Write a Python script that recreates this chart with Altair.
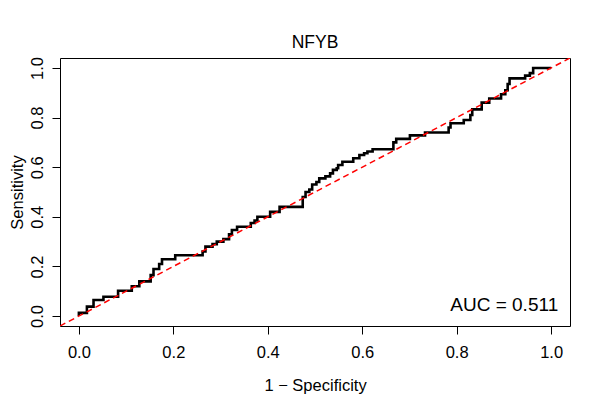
import altair as alt
import pandas as pd

# ROC curve vertices (1 - specificity, sensitivity)
fpr = [0, 0, 0.017, 0.017, 0.031, 0.031, 0.052, 0.052, 0.083, 0.083, 0.112, 0.112, 0.128, 0.128,
       0.152, 0.152, 0.158, 0.158, 0.170, 0.170, 0.176, 0.176, 0.204, 0.204, 0.262, 0.262, 0.268,
       0.268, 0.283, 0.283, 0.292, 0.292, 0.306, 0.306, 0.318, 0.318, 0.324, 0.324, 0.335, 0.335,
       0.364, 0.364, 0.372, 0.372, 0.378, 0.378, 0.405, 0.405, 0.425, 0.425, 0.474, 0.474, 0.48,
       0.48, 0.488, 0.488, 0.494, 0.494, 0.503, 0.503, 0.509, 0.509, 0.522, 0.522, 0.532, 0.532,
       0.538, 0.538, 0.546, 0.546, 0.549, 0.549, 0.558, 0.558, 0.581, 0.581, 0.594, 0.594, 0.604,
       0.604, 0.611, 0.611, 0.622, 0.622, 0.666, 0.666, 0.672, 0.672, 0.701, 0.701, 0.733, 0.733,
       0.783, 0.783, 0.787, 0.787, 0.815, 0.815, 0.829, 0.829, 0.833, 0.833, 0.853, 0.853, 0.869,
       0.869, 0.894, 0.894, 0.903, 0.903, 0.908, 0.908, 0.912, 0.912, 0.945, 0.945, 0.955, 0.955,
       0.962, 0.962, 1.0]
tpr = [0, 0.013, 0.013, 0.038, 0.038, 0.065, 0.065, 0.078, 0.078, 0.102, 0.102, 0.12, 0.12, 0.14,
       0.14, 0.165, 0.165, 0.19, 0.19, 0.21, 0.21, 0.229, 0.229, 0.245, 0.245, 0.26, 0.26,
       0.28, 0.28, 0.29, 0.29, 0.30, 0.30, 0.31, 0.31, 0.33, 0.33, 0.347, 0.347, 0.36,
       0.36, 0.375, 0.375, 0.385, 0.385, 0.40, 0.40, 0.42, 0.42, 0.44, 0.44, 0.48, 0.48,
       0.50, 0.50, 0.51, 0.51, 0.53, 0.53, 0.54, 0.54, 0.555, 0.555, 0.563, 0.563, 0.575,
       0.575, 0.589, 0.589, 0.596, 0.596, 0.609, 0.609, 0.622, 0.622, 0.636, 0.636, 0.649, 0.649,
       0.656, 0.656, 0.663, 0.663, 0.672, 0.672, 0.70, 0.70, 0.714, 0.714, 0.728, 0.728, 0.74,
       0.74, 0.76, 0.76, 0.777, 0.777, 0.79, 0.79, 0.81, 0.81, 0.833, 0.833, 0.86, 0.86,
       0.877, 0.877, 0.894, 0.894, 0.91, 0.91, 0.935, 0.935, 0.958, 0.958, 0.969, 0.969,
       0.979, 0.979, 1.0, 1.0]

diag_x = [-0.04, 1.04]
diag_y = [-0.04, 1.04]

tick_values = [0.0, 0.2, 0.4, 0.6, 0.8, 1.0]
auc_text = ["AUC = 0.511"]
auc_x = [1.015]
auc_y = [0.02]

FONT = "Liberation Sans"
DOM = [-0.04, 1.04]

roc = pd.DataFrame({"fpr": fpr, "tpr": tpr, "i": list(range(len(fpr)))})
diag = pd.DataFrame({"x": diag_x, "y": diag_y})
auc = pd.DataFrame({"label": auc_text, "x": auc_x, "y": auc_y})

xs = alt.Scale(domain=DOM, nice=False, zero=False)
ys = alt.Scale(domain=DOM, nice=False, zero=False)

xaxis = alt.Axis(values=tick_values, format=".1f", title="1 \u2212 Specificity",
                 titleY=64, titleBaseline="alphabetic")
yaxis = alt.Axis(values=tick_values, format=".1f", title="Sensitivity",
                 labelAngle=270, labelAlign="center", labelBaseline="alphabetic",
                 titleX=-38, titleBaseline="alphabetic", titleAngle=270)

curve = alt.Chart(roc).mark_line(color="black", strokeWidth=2.6, clip=True).encode(
    x=alt.X("fpr:Q", scale=xs, axis=xaxis),
    y=alt.Y("tpr:Q", scale=ys, axis=yaxis),
    order="i:Q",
)

diagonal = alt.Chart(diag).mark_line(color="#ff0000", strokeWidth=1.5,
                                     strokeDash=[6, 4], clip=True).encode(
    x=alt.X("x:Q", scale=xs),
    y=alt.Y("y:Q", scale=ys),
)

auc_mark = alt.Chart(auc).mark_text(align="right", baseline="alphabetic", font=FONT,
                                    fontSize=19, color="black").encode(
    x=alt.X("x:Q", scale=xs),
    y=alt.Y("y:Q", scale=ys),
    text="label:N",
)

chart = alt.layer(curve, diagonal, auc_mark).properties(
    width=510, height=268,
    autosize=alt.AutoSizeParams(type="none"),
    padding={"left": 52, "top": 50, "right": 22, "bottom": 74},
    title=alt.TitleParams("NFYB", font=FONT, fontSize=17.5, fontWeight="normal",
                          color="black", anchor="middle", baseline="alphabetic",
                          offset=10, dy=19),
).configure_view(
    stroke="black", strokeWidth=1
).configure_axis(
    domain=False, grid=False, ticks=True, tickColor="black", tickSize=8, tickWidth=1,
    labelFont=FONT, labelFontSize=16.5, labelColor="black", labelPadding=10,
    titleFont=FONT, titleFontSize=16.5, titleFontWeight="normal", titleColor="black",
)

chart.save("out.html", embed_options={"renderer": "svg", "actions": False})
